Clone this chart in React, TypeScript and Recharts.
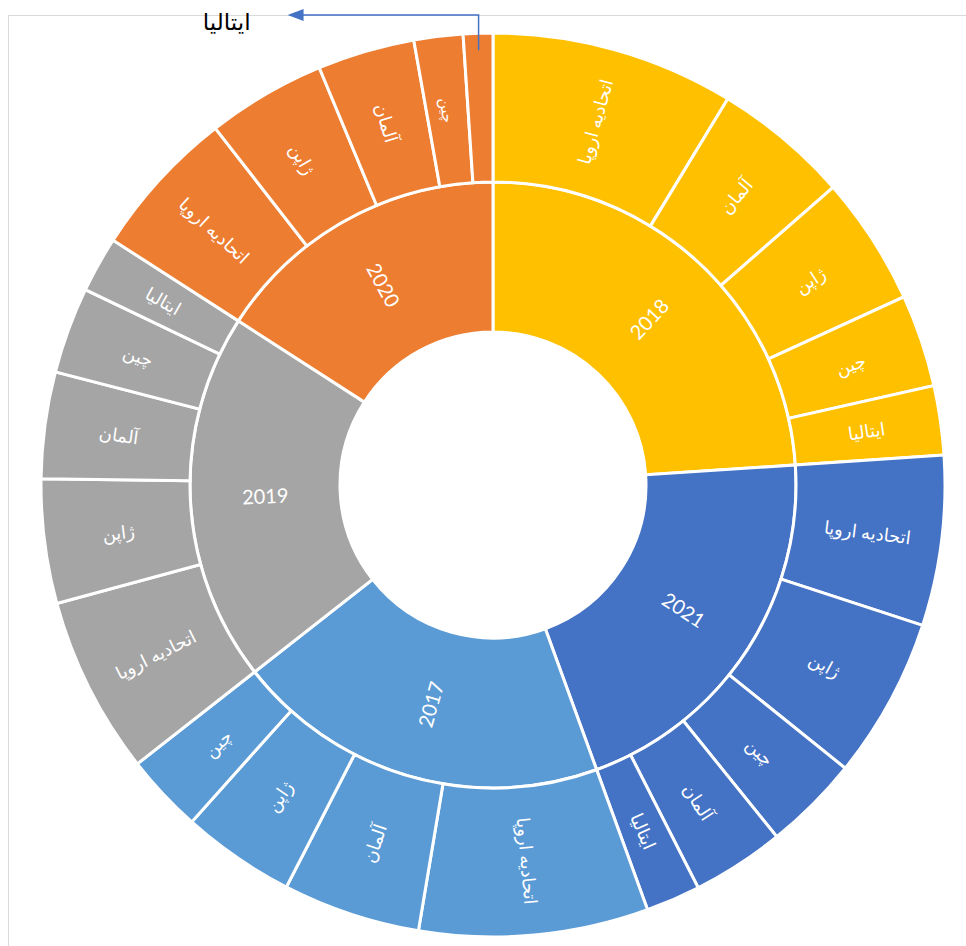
import { PieChart, Pie, Cell } from 'recharts';

// order of the rings, clockwise from 12 o'clock
const years = ['2018', '2021', '2017', '2019', '2020'];
const yearColors = ['#FFC000', '#4472C4', '#5B9BD5', '#A5A5A5', '#ED7D31'];

const countries2018 = ['اتحادیه اروپا', 'آلمان', 'ژاپن', 'چین', 'ایتالیا'];
const values2018 = [31.3, 17.5, 16.6, 11.9, 8.9];

const countries2021 = ['اتحادیه اروپا', 'ژاپن', 'چین', 'آلمان', 'ایتالیا'];
const values2021 = [21.9, 20.7, 12.3, 11.9, 7.0];

const countries2017 = ['اتحادیه اروپا', 'آلمان', 'ژاپن', 'چین'];
const values2017 = [29.5, 17.7, 14.6, 10.1];

const countries2019 = ['اتحادیه اروپا', 'ژاپن', 'آلمان', 'چین', 'ایتالیا'];
const values2019 = [22.9, 16.0, 13.7, 11.1, 7.2];

const countries2020 = ['اتحادیه اروپا', 'ژاپن', 'آلمان', 'چین', 'ایتالیا'];
const values2020 = [19.3, 15.3, 12.5, 6.3, 3.8];

const groups = [
  { names: countries2018, values: values2018 },
  { names: countries2021, values: values2021 },
  { names: countries2017, values: values2017 },
  { names: countries2019, values: values2019 },
  { names: countries2020, values: values2020 },
];

const yearData = years.map((y, i) => ({
  name: y,
  value: groups[i].values.reduce((a, b) => a + b, 0),
}));

const countryData = groups.flatMap((g, i) =>
  g.names.map((n, j) => ({ name: n, value: g.values[j], group: i }))
);

const RADIAN = Math.PI / 180;
const FONT = "Lato, 'DejaVu Sans', sans-serif";

function radialRotation(mid: number) {
  let rot = -mid;
  while (rot > 90) rot -= 180;
  while (rot <= -90) rot += 180;
  return rot;
}

function getMid(props: any) {
  if (typeof props.midAngle === 'number') return props.midAngle;
  return (props.startAngle + props.endAngle) / 2;
}

const renderYearLabel = (props: any) => {
  const { cx, cy, innerRadius, outerRadius, index } = props;
  const mid = getMid(props);
  const r = (innerRadius + outerRadius) / 2;
  const x = cx + r * Math.cos(-mid * RADIAN);
  const y = cy + r * Math.sin(-mid * RADIAN);
  return (
    <text
      x={x}
      y={y}
      fill="#fff"
      fontSize={20}
      fontFamily={FONT}
      textAnchor="middle"
      dominantBaseline="central"
      transform={`rotate(${radialRotation(mid)}, ${x}, ${y})`}
    >
      {yearData[index].name}
    </text>
  );
};

const renderCountryLabel = (props: any) => {
  const { cx, cy, innerRadius, outerRadius, startAngle, endAngle, index } = props;
  const mid = getMid(props);
  const name = countryData[index].name;
  const span = Math.abs(endAngle - startAngle);

  // very thin slice: label outside with an arrow, like Excel does
  if (span < 5) {
    const r0 = outerRadius - 17;
    const sx = cx + r0 * Math.cos(-mid * RADIAN);
    const sy = cy + r0 * Math.sin(-mid * RADIAN);
    const ty = cy - outerRadius - 18;
    const tipX = sx - 191;
    return (
      <g>
        <polyline
          points={`${sx},${sy} ${sx},${ty} ${tipX + 14},${ty}`}
          fill="none"
          stroke="#4472C4"
          strokeWidth={1.5}
        />
        <polygon
          points={`${tipX},${ty} ${tipX + 16},${ty - 6} ${tipX + 16},${ty + 6}`}
          fill="#4472C4"
        />
        <text
          x={tipX - 37}
          y={ty + 6}
          fill="#000"
          fontSize={23}
          fontFamily={FONT}
          textAnchor="end"
          dominantBaseline="central"
        >
          {name}
        </text>
      </g>
    );
  }

  const r = (innerRadius + outerRadius) / 2;
  const x = cx + r * Math.cos(-mid * RADIAN);
  const y = cy + r * Math.sin(-mid * RADIAN);
  return (
    <text
      x={x}
      y={y}
      fill="#fff"
      fontSize={span < 6.8 ? 15 : 18}
      fontFamily={FONT}
      textAnchor="middle"
      dominantBaseline="central"
      transform={`rotate(${radialRotation(mid)}, ${x}, ${y})`}
    >
      {name}
    </text>
  );
};

export default function App() {
  return (
    <div
      style={{
        position: 'absolute',
        left: 0,
        top: 0,
        width: 966,
        height: 946,
        background: '#fff',
        overflow: 'hidden',
      }}
    >
      <div
        style={{
          position: 'absolute',
          left: 8,
          top: 15,
          width: 1000,
          height: 1000,
          border: '1px solid #d9d9d9',
        }}
      />
      <div style={{ position: 'absolute', left: 0, top: 0 }}>
        <PieChart width={966} height={946} margin={{ top: 0, right: 0, bottom: 0, left: 0 }}>
          <Pie
            data={yearData}
            dataKey="value"
            cx={493}
            cy={485}
            innerRadius={153}
            outerRadius={303}
            startAngle={90}
            endAngle={-270}
            stroke="#fff"
            strokeWidth={3}
            label={renderYearLabel}
            labelLine={false}
            isAnimationActive={false}
          >
            {yearData.map((d, i) => (
              <Cell key={d.name} fill={yearColors[i]} />
            ))}
          </Pie>
          <Pie
            data={countryData}
            dataKey="value"
            cx={493}
            cy={485}
            innerRadius={303}
            outerRadius={452}
            startAngle={90}
            endAngle={-270}
            stroke="#fff"
            strokeWidth={3}
            label={renderCountryLabel}
            labelLine={false}
            isAnimationActive={false}
          >
            {countryData.map((d, i) => (
              <Cell key={i} fill={yearColors[d.group]} />
            ))}
          </Pie>
        </PieChart>
      </div>
    </div>
  );
}
